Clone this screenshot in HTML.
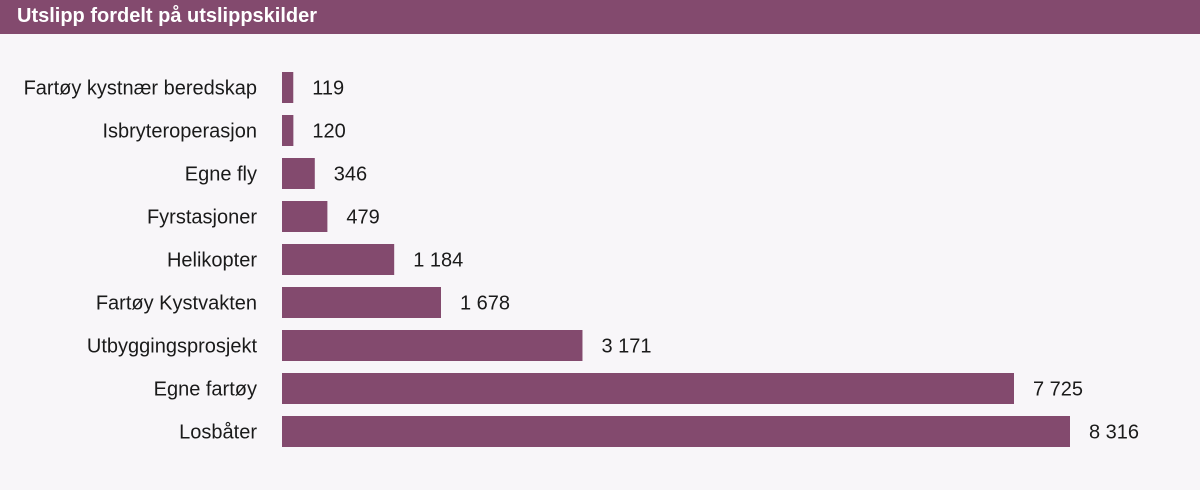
<!DOCTYPE html>
<html><head><meta charset="utf-8"><style>
html,body{margin:0;padding:0;}
body{width:1200px;height:490px;background:#f8f6f9;font-family:"Liberation Sans",sans-serif;position:relative;overflow:hidden;}
#hdr{position:absolute;left:0;top:0;width:1200px;height:34px;background:#834a6e;color:#fff;font-weight:bold;font-size:20px;line-height:33px;padding-left:17px;box-sizing:border-box;}
svg{position:absolute;left:0;top:0;}
text{font-family:"Liberation Sans",sans-serif;font-size:20px;fill:#1a1a1a;}
</style></head><body>
<div id="hdr">Utslipp fordelt på utslippskilder</div>
<svg id="chart" width="1200" height="490"></svg>
<script>
const categories=["Fartøy kystnær beredskap","Isbryteroperasjon","Egne fly","Fyrstasjoner","Helikopter","Fartøy Kystvakten","Utbyggingsprosjekt","Egne fartøy","Losbåter"];
const values=[119,120,346,479,1184,1678,3171,7725,8316];
const valueLabels=["119","120","346","479","1 184","1 678","3 171","7 725","8 316"];
const svg=document.getElementById('chart');
const NS='http://www.w3.org/2000/svg';
const x0=282, xScale=v=>v*(1070-282)/8316;
const y=i=>72+i*43;
const bh=31;
categories.forEach((c,i)=>{
  const r=document.createElementNS(NS,'rect');
  r.setAttribute('x',x0);r.setAttribute('y',y(i));
  r.setAttribute('width',Math.max(1,xScale(values[i])));r.setAttribute('height',bh);
  r.setAttribute('fill','#834a6e');
  
  
  svg.appendChild(r);
  const t=document.createElementNS(NS,'text');
  t.setAttribute('x',257);t.setAttribute('y',y(i)+bh/2+7);
  t.setAttribute('text-anchor','end');t.textContent=c;
  
  
  svg.appendChild(t);
  const v=document.createElementNS(NS,'text');
  v.setAttribute('x',x0+xScale(values[i])+19);v.setAttribute('y',y(i)+bh/2+7);
  v.textContent=valueLabels[i];
  
  
  svg.appendChild(v);
});
</script>
</body></html>
